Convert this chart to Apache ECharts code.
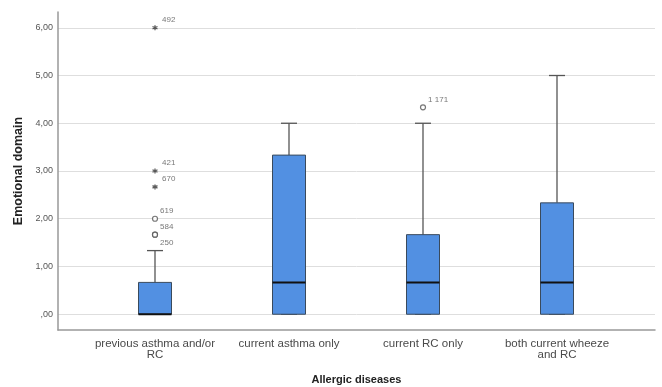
<!DOCTYPE html>
<html>
<head>
<meta charset="utf-8">
<script src="https://cdn.jsdelivr.net/npm/echarts@6/dist/echarts.min.js"></script>
<style>html,body{margin:0;padding:0;background:#fff;}#c{width:662px;height:387px;}</style>
</head>
<body>
<div id="c"></div>
<script>
// ---- data ----
var categories = ['previous asthma and/or\nRC', 'current asthma only', 'current RC only', 'both current wheeze\nand RC'];
var boxMin    = [0, 0, 0, 0];
var boxQ1     = [0, 0, 0, 0];
var boxMedian = [0, 0.667, 0.667, 0.667];
var boxQ3     = [0.667, 3.333, 1.667, 2.333];
var boxMax    = [1.333, 4, 4, 5];
// outliers (circles)
var outlierCat   = [0, 0, 0, 2];
var outlierValue = [2.0, 1.667, 1.667, 4.333];
var outlierLabel = ['619', '584', '250', '1 171'];
// extremes (stars)
var extremeCat   = [0, 0, 0];
var extremeValue = [6.0, 3.0, 2.667];
var extremeLabel = ['492', '421', '670'];
var yTicks = [0, 1, 2, 3, 4, 5, 6];

var FONT = '"Liberation Sans", Arial, sans-serif';
var Y_MIN = -0.33, Y_MAX = 6.33;

var boxData = categories.map(function (c, i) {
  return [i, boxMin[i], boxQ1[i], boxMedian[i], boxQ3[i], boxMax[i]];
});

function lbl(text, below) {
  return {
    show: true, formatter: text, position: 'right', distance: 2,
    offset: [0, below ? 8 : -8], fontSize: 8, color: '#555', fontFamily: FONT
  };
}

var outData = outlierCat.map(function (c, i) {
  var below = i > 0 && outlierValue[i] === outlierValue[i - 1] && outlierCat[i] === outlierCat[i - 1];
  return { value: [c, outlierValue[i]], label: lbl(outlierLabel[i], below) };
});
var extData = extremeCat.map(function (c, i) {
  return { value: [c, extremeValue[i]], label: lbl(extremeLabel[i], false) };
});

var chart = echarts.init(document.getElementById('c'), null, { renderer: 'canvas' });
chart.setOption({
  animation: false,
  backgroundColor: '#fff',
  grid: [
    { left: 58, right: 7, top: 12, bottom: 57, outerBoundsMode: 'none', containLabel: false },
    { left: 88, right: 38, top: 12, bottom: 57, outerBoundsMode: 'none', containLabel: false }
  ],
  xAxis: [
    {
      gridIndex: 0, type: 'value', min: 0, max: 1,
      axisLine: { show: true, onZero: false, lineStyle: { color: '#999', width: 1.5 } },
      axisTick: { show: false }, axisLabel: { show: false }, splitLine: { show: false },
      name: 'Allergic diseases', nameLocation: 'middle', nameGap: 44,
      nameTextStyle: { fontFamily: FONT, fontWeight: 'bold', fontSize: 11, color: '#222' }
    },
    {
      gridIndex: 1, type: 'category', data: categories, boundaryGap: true,
      axisLine: { show: false, onZero: false }, axisTick: { show: false }, splitLine: { show: false },
      axisLabel: { interval: 0, margin: 8, fontFamily: FONT, fontSize: 11.5, color: '#4a4a4a', lineHeight: 11.5 }
    }
  ],
  yAxis: [
    {
      gridIndex: 0, type: 'value', min: Y_MIN, max: Y_MAX,
      axisLine: { show: true, onZero: false, lineStyle: { color: '#999', width: 1.5 } },
      axisTick: { show: false, customValues: yTicks },
      axisLabel: {
        customValues: yTicks, margin: 5, fontFamily: FONT, fontSize: 9, color: '#555',
        formatter: function (v) { return v === 0 ? ',00' : v.toFixed(2).replace('.', ','); }
      },
      splitLine: { show: true, lineStyle: { color: '#dedede', width: 1 } },
      name: 'Emotional domain', nameLocation: 'middle', nameGap: 25,
      nameTextStyle: { fontFamily: FONT, fontWeight: 'bold', fontSize: 12.5, color: '#222' }
    },
    {
      gridIndex: 1, type: 'value', min: Y_MIN, max: Y_MAX,
      axisLine: { show: false, onZero: false }, axisTick: { show: false }, axisLabel: { show: false },
      splitLine: { show: false }
    }
  ],
  series: [
    {
      type: 'custom', xAxisIndex: 1, yAxisIndex: 1, data: boxData,
      renderItem: function (params, api) {
        var x = api.value(0);
        var pMin = api.coord([x, api.value(1)]);
        var pQ1 = api.coord([x, api.value(2)]);
        var pMed = api.coord([x, api.value(3)]);
        var pQ3 = api.coord([x, api.value(4)]);
        var pMax = api.coord([x, api.value(5)]);
        var cx = pMin[0], bw = 33, cw = 16;
        var wStyle = { stroke: '#555', lineWidth: 1.3 };
        return {
          type: 'group',
          children: [
            { type: 'line', shape: { x1: cx, y1: pQ3[1], x2: cx, y2: pMax[1] }, style: wStyle },
            { type: 'line', shape: { x1: cx - cw / 2, y1: pMax[1], x2: cx + cw / 2, y2: pMax[1] }, style: wStyle },
            { type: 'line', shape: { x1: cx, y1: pQ1[1], x2: cx, y2: pMin[1] }, style: wStyle },
            { type: 'line', shape: { x1: cx - cw / 2, y1: pMin[1], x2: cx + cw / 2, y2: pMin[1] }, style: wStyle },
            { type: 'rect', shape: { x: cx - bw / 2, y: pQ3[1], width: bw, height: pQ1[1] - pQ3[1] },
              style: { fill: '#5290e2', stroke: '#3a4a5c', lineWidth: 1 } },
            { type: 'line', shape: { x1: cx - bw / 2, y1: pMed[1], x2: cx + bw / 2, y2: pMed[1] },
              style: { stroke: '#111', lineWidth: 2 } }
          ]
        };
      }
    },
    {
      type: 'scatter', xAxisIndex: 1, yAxisIndex: 1, data: outData,
      symbol: 'circle', symbolSize: 5,
      itemStyle: { color: '#fff', borderColor: '#555', borderWidth: 1.2 }
    },
    {
      type: 'scatter', xAxisIndex: 1, yAxisIndex: 1, data: extData,
      symbol: 'path://M5 0L5 10M0.7 2.5L9.3 7.5M9.3 2.5L0.7 7.5', symbolSize: 5,
      itemStyle: { color: 'none', borderColor: '#333', borderWidth: 1.3 }
    }
  ]
});
</script>
</body>
</html>
